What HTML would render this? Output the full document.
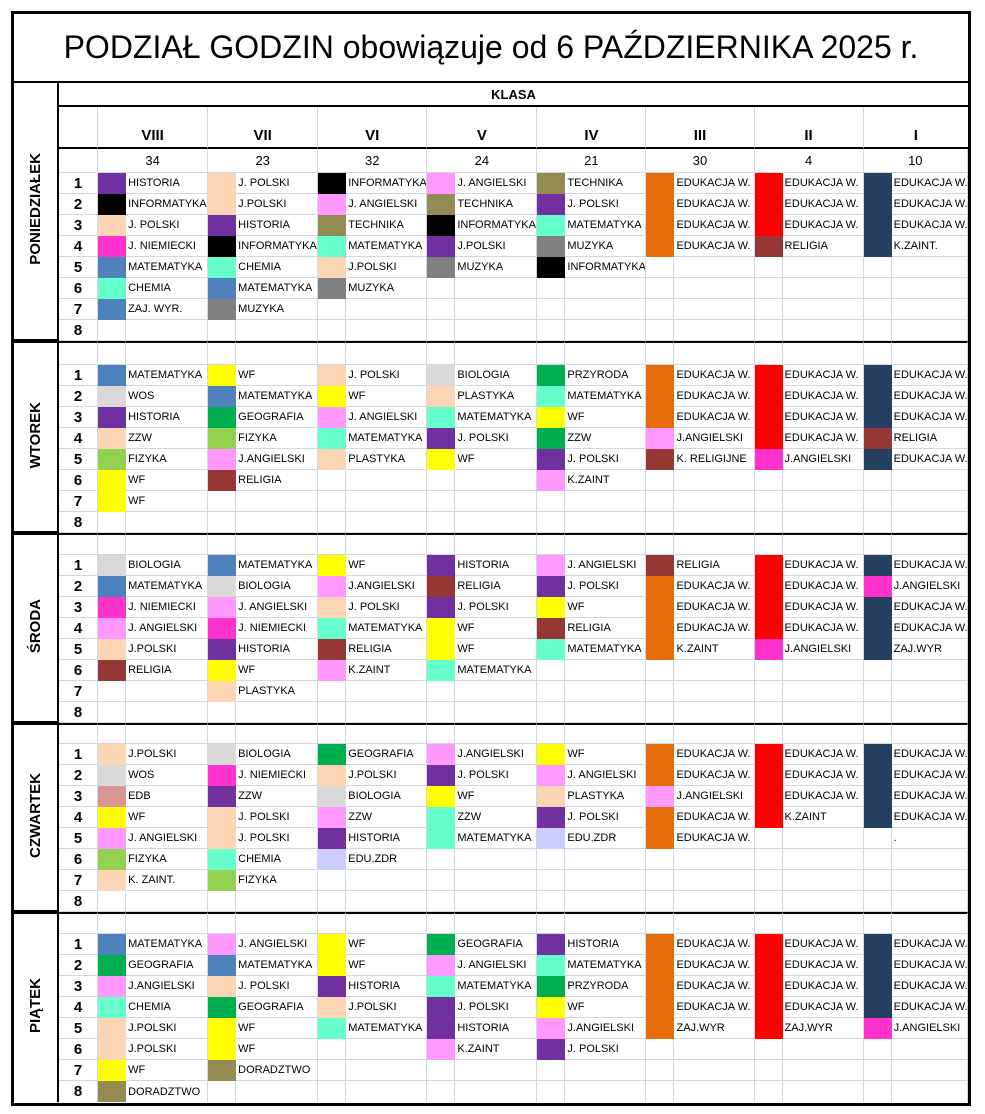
<!DOCTYPE html>
<html><head><meta charset="utf-8"><style>
body{margin:0;background:#fff;width:985px;height:1114px;position:relative;font-family:"Liberation Sans",Arial,sans-serif;}
#w{position:absolute;left:11px;top:11px;width:960px;height:1095px;border:3px solid #000;box-sizing:border-box;overflow:hidden}
table{border-collapse:separate;border-spacing:0;table-layout:fixed;width:954px}
td{box-sizing:border-box;padding:0;border-right:1px solid #cfd6e4;border-bottom:1px solid #cfd6e4;font-size:11px;white-space:nowrap;overflow:hidden;height:21px;vertical-align:middle}
td.t{padding-left:2px}
td.n{font-weight:bold;font-size:15px;text-align:center;border-right:1px solid #cfd6e4}
td.day{border-right:2px solid #000;border-bottom:2px solid #000;text-align:center;font-weight:bold;font-size:15px}
td.day div{writing-mode:vertical-rl;transform:rotate(180deg);display:inline-block}
tr.s td{border-top:2px solid #000}
tr.last td{border-bottom:none}
.title{height:69px;text-align:center;font-size:32px;border-bottom:2px solid #000;border-right:none}
.pu{background:#7030a0;border-color:#7030a0!important}
.bk{background:#000;border-color:#000!important}
.pe{background:#fcd5b4;border-color:#fcd5b4!important}
.mg{background:#ff33cc;border-color:#ff33cc!important}
.bl{background:#4f81bd;border-color:#4f81bd!important}
.mi{background:#66ffcc;border-color:#66ffcc!important}
.gy{background:#808080;border-color:#808080!important}
.ol{background:#948a54;border-color:#948a54!important}
.pk{background:#ff99ff;border-color:#ff99ff!important}
.or{background:#e46c0a;border-color:#e46c0a!important}
.rd{background:#ff0000;border-color:#ff0000!important}
.nv{background:#243f60;border-color:#243f60!important}
.br{background:#953735;border-color:#953735!important}
.ye{background:#ffff00;border-color:#ffff00!important}
.lgr{background:#92d050;border-color:#92d050!important}
.gr{background:#00b050;border-color:#00b050!important}
.lg{background:#d9d9d9;border-color:#d9d9d9!important}
.lav{background:#ccccff;border-color:#ccccff!important}
.dp{background:#da9694;border-color:#da9694!important}
tr.s td.day{border-top:2px solid #000}
</style></head><body><div id="w"><table>
<colgroup><col style="width:45px"><col style="width:39px"><col style="width:28px"><col style="width:82px"><col style="width:28px"><col style="width:82px"><col style="width:28px"><col style="width:81px"><col style="width:28px"><col style="width:82px"><col style="width:28px"><col style="width:81px"><col style="width:28px"><col style="width:80px"><col style="width:28px"><col style="width:81px"><col style="width:28px"><col style="width:76px"></colgroup>
<tr><td class="title" colspan="18">PODZIAŁ GODZIN obowiązuje od 6 PAŹDZIERNIKA 2025 r.</td></tr>
<tr><td class="day" rowspan="11"><div>PONIEDZIAŁEK</div></td><td colspan="17" style="height:24px;text-align:center;font-weight:bold;font-size:13px;border-bottom:2px solid #000;border-right:none">KLASA</td></tr>
<tr style="font-weight:bold"><td style="height:42px;border-bottom:2px solid #000"></td><td colspan="2" style="text-align:center;vertical-align:bottom;padding-bottom:3px;font-size:15px;font-weight:bold;border-bottom:2px solid #000">VIII</td><td colspan="2" style="text-align:center;vertical-align:bottom;padding-bottom:3px;font-size:15px;font-weight:bold;border-bottom:2px solid #000">VII</td><td colspan="2" style="text-align:center;vertical-align:bottom;padding-bottom:3px;font-size:15px;font-weight:bold;border-bottom:2px solid #000">VI</td><td colspan="2" style="text-align:center;vertical-align:bottom;padding-bottom:3px;font-size:15px;font-weight:bold;border-bottom:2px solid #000">V</td><td colspan="2" style="text-align:center;vertical-align:bottom;padding-bottom:3px;font-size:15px;font-weight:bold;border-bottom:2px solid #000">IV</td><td colspan="2" style="text-align:center;vertical-align:bottom;padding-bottom:3px;font-size:15px;font-weight:bold;border-bottom:2px solid #000">III</td><td colspan="2" style="text-align:center;vertical-align:bottom;padding-bottom:3px;font-size:15px;font-weight:bold;border-bottom:2px solid #000">II</td><td colspan="2" style="text-align:center;vertical-align:bottom;padding-bottom:3px;font-size:15px;font-weight:bold;border-bottom:2px solid #000;border-right:none">I</td></tr>
<tr><td style="height:24px"></td><td colspan="2" style="text-align:center;font-size:13px">34</td><td colspan="2" style="text-align:center;font-size:13px">23</td><td colspan="2" style="text-align:center;font-size:13px">32</td><td colspan="2" style="text-align:center;font-size:13px">24</td><td colspan="2" style="text-align:center;font-size:13px">21</td><td colspan="2" style="text-align:center;font-size:13px">30</td><td colspan="2" style="text-align:center;font-size:13px">4</td><td colspan="2" style="text-align:center;font-size:13px">10</td></tr>
<tr><td class="n">1</td><td class="pu"></td><td class="t">HISTORIA</td><td class="pe"></td><td class="t">J. POLSKI</td><td class="bk"></td><td class="t">INFORMATYKA</td><td class="pk"></td><td class="t">J. ANGIELSKI</td><td class="ol"></td><td class="t">TECHNIKA</td><td class="or"></td><td class="t">EDUKACJA W.</td><td class="rd"></td><td class="t">EDUKACJA W.</td><td class="nv"></td><td class="t">EDUKACJA W.</td></tr>
<tr><td class="n">2</td><td class="bk"></td><td class="t">INFORMATYKA</td><td class="pe"></td><td class="t">J.POLSKI</td><td class="pk"></td><td class="t">J. ANGIELSKI</td><td class="ol"></td><td class="t">TECHNIKA</td><td class="pu"></td><td class="t">J. POLSKI</td><td class="or"></td><td class="t">EDUKACJA W.</td><td class="rd"></td><td class="t">EDUKACJA W.</td><td class="nv"></td><td class="t">EDUKACJA W.</td></tr>
<tr><td class="n">3</td><td class="pe"></td><td class="t">J. POLSKI</td><td class="pu"></td><td class="t">HISTORIA</td><td class="ol"></td><td class="t">TECHNIKA</td><td class="bk"></td><td class="t">INFORMATYKA</td><td class="mi"></td><td class="t">MATEMATYKA</td><td class="or"></td><td class="t">EDUKACJA W.</td><td class="rd"></td><td class="t">EDUKACJA W.</td><td class="nv"></td><td class="t">EDUKACJA W.</td></tr>
<tr><td class="n">4</td><td class="mg"></td><td class="t">J. NIEMIECKI</td><td class="bk"></td><td class="t">INFORMATYKA</td><td class="mi"></td><td class="t">MATEMATYKA</td><td class="pu"></td><td class="t">J.POLSKI</td><td class="gy"></td><td class="t">MUZYKA</td><td class="or"></td><td class="t">EDUKACJA W.</td><td class="br"></td><td class="t">RELIGIA</td><td class="nv"></td><td class="t">K.ZAINT.</td></tr>
<tr><td class="n">5</td><td class="bl"></td><td class="t">MATEMATYKA</td><td class="mi"></td><td class="t">CHEMIA</td><td class="pe"></td><td class="t">J.POLSKI</td><td class="gy"></td><td class="t">MUZYKA</td><td class="bk"></td><td class="t">INFORMATYKA</td><td></td><td></td><td></td><td></td><td></td><td></td></tr>
<tr><td class="n">6</td><td class="mi"></td><td class="t">CHEMIA</td><td class="bl"></td><td class="t">MATEMATYKA</td><td class="gy"></td><td class="t">MUZYKA</td><td></td><td></td><td></td><td></td><td></td><td></td><td></td><td></td><td></td><td></td></tr>
<tr><td class="n">7</td><td class="bl"></td><td class="t">ZAJ. WYR.</td><td class="gy"></td><td class="t">MUZYKA</td><td></td><td></td><td></td><td></td><td></td><td></td><td></td><td></td><td></td><td></td><td></td><td></td></tr>
<tr><td class="n">8</td><td></td><td></td><td></td><td></td><td></td><td></td><td></td><td></td><td></td><td></td><td></td><td></td><td></td><td></td><td></td><td></td></tr>

<tr class="s"><td class="day" rowspan="9"><div>WTOREK</div></td><td style="height:24px"></td><td></td><td></td><td></td><td></td><td></td><td></td><td></td><td></td><td></td><td></td><td></td><td></td><td></td><td></td><td></td><td></td></tr>
<tr><td class="n">1</td><td class="bl"></td><td class="t">MATEMATYKA</td><td class="ye"></td><td class="t">WF</td><td class="pe"></td><td class="t">J. POLSKI</td><td class="lg"></td><td class="t">BIOLOGIA</td><td class="gr"></td><td class="t">PRZYRODA</td><td class="or"></td><td class="t">EDUKACJA W.</td><td class="rd"></td><td class="t">EDUKACJA W.</td><td class="nv"></td><td class="t">EDUKACJA W.</td></tr>
<tr><td class="n">2</td><td class="lg"></td><td class="t">WOS</td><td class="bl"></td><td class="t">MATEMATYKA</td><td class="ye"></td><td class="t">WF</td><td class="pe"></td><td class="t">PLASTYKA</td><td class="mi"></td><td class="t">MATEMATYKA</td><td class="or"></td><td class="t">EDUKACJA W.</td><td class="rd"></td><td class="t">EDUKACJA W.</td><td class="nv"></td><td class="t">EDUKACJA W.</td></tr>
<tr><td class="n">3</td><td class="pu"></td><td class="t">HISTORIA</td><td class="gr"></td><td class="t">GEOGRAFIA</td><td class="pk"></td><td class="t">J. ANGIELSKI</td><td class="mi"></td><td class="t">MATEMATYKA</td><td class="ye"></td><td class="t">WF</td><td class="or"></td><td class="t">EDUKACJA W.</td><td class="rd"></td><td class="t">EDUKACJA W.</td><td class="nv"></td><td class="t">EDUKACJA W.</td></tr>
<tr><td class="n">4</td><td class="pe"></td><td class="t">ZZW</td><td class="lgr"></td><td class="t">FIZYKA</td><td class="mi"></td><td class="t">MATEMATYKA</td><td class="pu"></td><td class="t">J. POLSKI</td><td class="gr"></td><td class="t">ZZW</td><td class="pk"></td><td class="t">J.ANGIELSKI</td><td class="rd"></td><td class="t">EDUKACJA W.</td><td class="br"></td><td class="t">RELIGIA</td></tr>
<tr><td class="n">5</td><td class="lgr"></td><td class="t">FIZYKA</td><td class="pk"></td><td class="t">J.ANGIELSKI</td><td class="pe"></td><td class="t">PLASTYKA</td><td class="ye"></td><td class="t">WF</td><td class="pu"></td><td class="t">J. POLSKI</td><td class="br"></td><td class="t">K. RELIGIJNE</td><td class="mg"></td><td class="t">J.ANGIELSKI</td><td class="nv"></td><td class="t">EDUKACJA W.</td></tr>
<tr><td class="n">6</td><td class="ye"></td><td class="t">WF</td><td class="br"></td><td class="t">RELIGIA</td><td></td><td></td><td></td><td></td><td class="pk"></td><td class="t">K.ZAINT</td><td></td><td></td><td></td><td></td><td></td><td></td></tr>
<tr><td class="n">7</td><td class="ye"></td><td class="t">WF</td><td></td><td></td><td></td><td></td><td></td><td></td><td></td><td></td><td></td><td></td><td></td><td></td><td></td><td></td></tr>
<tr><td class="n">8</td><td></td><td></td><td></td><td></td><td></td><td></td><td></td><td></td><td></td><td></td><td></td><td></td><td></td><td></td><td></td><td></td></tr>

<tr class="s"><td class="day" rowspan="9"><div>ŚRODA</div></td><td style="height:22px"></td><td></td><td></td><td></td><td></td><td></td><td></td><td></td><td></td><td></td><td></td><td></td><td></td><td></td><td></td><td></td><td></td></tr>
<tr><td class="n">1</td><td class="lg"></td><td class="t">BIOLOGIA</td><td class="bl"></td><td class="t">MATEMATYKA</td><td class="ye"></td><td class="t">WF</td><td class="pu"></td><td class="t">HISTORIA</td><td class="pk"></td><td class="t">J. ANGIELSKI</td><td class="br"></td><td class="t">RELIGIA</td><td class="rd"></td><td class="t">EDUKACJA W.</td><td class="nv"></td><td class="t">EDUKACJA W.</td></tr>
<tr><td class="n">2</td><td class="bl"></td><td class="t">MATEMATYKA</td><td class="lg"></td><td class="t">BIOLOGIA</td><td class="pk"></td><td class="t">J.ANGIELSKI</td><td class="br"></td><td class="t">RELIGIA</td><td class="pu"></td><td class="t">J. POLSKI</td><td class="or"></td><td class="t">EDUKACJA W.</td><td class="rd"></td><td class="t">EDUKACJA W.</td><td class="mg"></td><td class="t">J.ANGIELSKI</td></tr>
<tr><td class="n">3</td><td class="mg"></td><td class="t">J. NIEMIECKI</td><td class="pk"></td><td class="t">J. ANGIELSKI</td><td class="pe"></td><td class="t">J. POLSKI</td><td class="pu"></td><td class="t">J. POLSKI</td><td class="ye"></td><td class="t">WF</td><td class="or"></td><td class="t">EDUKACJA W.</td><td class="rd"></td><td class="t">EDUKACJA W.</td><td class="nv"></td><td class="t">EDUKACJA W.</td></tr>
<tr><td class="n">4</td><td class="pk"></td><td class="t">J. ANGIELSKI</td><td class="mg"></td><td class="t">J. NIEMIECKI</td><td class="mi"></td><td class="t">MATEMATYKA</td><td class="ye"></td><td class="t">WF</td><td class="br"></td><td class="t">RELIGIA</td><td class="or"></td><td class="t">EDUKACJA W.</td><td class="rd"></td><td class="t">EDUKACJA W.</td><td class="nv"></td><td class="t">EDUKACJA W.</td></tr>
<tr><td class="n">5</td><td class="pe"></td><td class="t">J.POLSKI</td><td class="pu"></td><td class="t">HISTORIA</td><td class="br"></td><td class="t">RELIGIA</td><td class="ye"></td><td class="t">WF</td><td class="mi"></td><td class="t">MATEMATYKA</td><td class="or"></td><td class="t">K.ZAINT</td><td class="mg"></td><td class="t">J.ANGIELSKI</td><td class="nv"></td><td class="t">ZAJ.WYR</td></tr>
<tr><td class="n">6</td><td class="br"></td><td class="t">RELIGIA</td><td class="ye"></td><td class="t">WF</td><td class="pk"></td><td class="t">K.ZAINT</td><td class="mi"></td><td class="t">MATEMATYKA</td><td></td><td></td><td></td><td></td><td></td><td></td><td></td><td></td></tr>
<tr><td class="n">7</td><td></td><td></td><td class="pe"></td><td class="t">PLASTYKA</td><td></td><td></td><td></td><td></td><td></td><td></td><td></td><td></td><td></td><td></td><td></td><td></td></tr>
<tr><td class="n">8</td><td></td><td></td><td></td><td></td><td></td><td></td><td></td><td></td><td></td><td></td><td></td><td></td><td></td><td></td><td></td><td></td></tr>

<tr class="s"><td class="day" rowspan="9"><div>CZWARTEK</div></td><td style="height:21px"></td><td></td><td></td><td></td><td></td><td></td><td></td><td></td><td></td><td></td><td></td><td></td><td></td><td></td><td></td><td></td><td></td></tr>
<tr><td class="n">1</td><td class="pe"></td><td class="t">J.POLSKI</td><td class="lg"></td><td class="t">BIOLOGIA</td><td class="gr"></td><td class="t">GEOGRAFIA</td><td class="pk"></td><td class="t">J.ANGIELSKI</td><td class="ye"></td><td class="t">WF</td><td class="or"></td><td class="t">EDUKACJA W.</td><td class="rd"></td><td class="t">EDUKACJA W.</td><td class="nv"></td><td class="t">EDUKACJA W.</td></tr>
<tr><td class="n">2</td><td class="lg"></td><td class="t">WOS</td><td class="mg"></td><td class="t">J. NIEMIECKI</td><td class="pe"></td><td class="t">J.POLSKI</td><td class="pu"></td><td class="t">J. POLSKI</td><td class="pk"></td><td class="t">J. ANGIELSKI</td><td class="or"></td><td class="t">EDUKACJA W.</td><td class="rd"></td><td class="t">EDUKACJA W.</td><td class="nv"></td><td class="t">EDUKACJA W.</td></tr>
<tr><td class="n">3</td><td class="dp"></td><td class="t">EDB</td><td class="pu"></td><td class="t">ZZW</td><td class="lg"></td><td class="t">BIOLOGIA</td><td class="ye"></td><td class="t">WF</td><td class="pe"></td><td class="t">PLASTYKA</td><td class="pk"></td><td class="t">J.ANGIELSKI</td><td class="rd"></td><td class="t">EDUKACJA W.</td><td class="nv"></td><td class="t">EDUKACJA W.</td></tr>
<tr><td class="n">4</td><td class="ye"></td><td class="t">WF</td><td class="pe"></td><td class="t">J. POLSKI</td><td class="pk"></td><td class="t">ZZW</td><td class="mi"></td><td class="t">ZZW</td><td class="pu"></td><td class="t">J. POLSKI</td><td class="or"></td><td class="t">EDUKACJA W.</td><td class="rd"></td><td class="t">K.ZAINT</td><td class="nv"></td><td class="t">EDUKACJA W.</td></tr>
<tr><td class="n">5</td><td class="pk"></td><td class="t">J. ANGIELSKI</td><td class="pe"></td><td class="t">J. POLSKI</td><td class="pu"></td><td class="t">HISTORIA</td><td class="mi"></td><td class="t">MATEMATYKA</td><td class="lav"></td><td class="t">EDU.ZDR</td><td class="or"></td><td class="t">EDUKACJA W.</td><td></td><td></td><td></td><td class="t">.</td></tr>
<tr><td class="n">6</td><td class="lgr"></td><td class="t">FIZYKA</td><td class="mi"></td><td class="t">CHEMIA</td><td class="lav"></td><td class="t">EDU.ZDR</td><td></td><td></td><td></td><td></td><td></td><td></td><td></td><td></td><td></td><td></td></tr>
<tr><td class="n">7</td><td class="pe"></td><td class="t">K. ZAINT.</td><td class="lgr"></td><td class="t">FIZYKA</td><td></td><td></td><td></td><td></td><td></td><td></td><td></td><td></td><td></td><td></td><td></td><td></td></tr>
<tr><td class="n">8</td><td></td><td></td><td></td><td></td><td></td><td></td><td></td><td></td><td></td><td></td><td></td><td></td><td></td><td></td><td></td><td></td></tr>

<tr class="s"><td class="day" rowspan="9" style="border-bottom:none"><div>PIĄTEK</div></td><td style="height:22px"></td><td></td><td></td><td></td><td></td><td></td><td></td><td></td><td></td><td></td><td></td><td></td><td></td><td></td><td></td><td></td><td></td></tr>
<tr><td class="n">1</td><td class="bl"></td><td class="t">MATEMATYKA</td><td class="pk"></td><td class="t">J. ANGIELSKI</td><td class="ye"></td><td class="t">WF</td><td class="gr"></td><td class="t">GEOGRAFIA</td><td class="pu"></td><td class="t">HISTORIA</td><td class="or"></td><td class="t">EDUKACJA W.</td><td class="rd"></td><td class="t">EDUKACJA W.</td><td class="nv"></td><td class="t">EDUKACJA W.</td></tr>
<tr><td class="n">2</td><td class="gr"></td><td class="t">GEOGRAFIA</td><td class="bl"></td><td class="t">MATEMATYKA</td><td class="ye"></td><td class="t">WF</td><td class="pk"></td><td class="t">J. ANGIELSKI</td><td class="mi"></td><td class="t">MATEMATYKA</td><td class="or"></td><td class="t">EDUKACJA W.</td><td class="rd"></td><td class="t">EDUKACJA W.</td><td class="nv"></td><td class="t">EDUKACJA W.</td></tr>
<tr><td class="n">3</td><td class="pk"></td><td class="t">J.ANGIELSKI</td><td class="pe"></td><td class="t">J. POLSKI</td><td class="pu"></td><td class="t">HISTORIA</td><td class="mi"></td><td class="t">MATEMATYKA</td><td class="gr"></td><td class="t">PRZYRODA</td><td class="or"></td><td class="t">EDUKACJA W.</td><td class="rd"></td><td class="t">EDUKACJA W.</td><td class="nv"></td><td class="t">EDUKACJA W.</td></tr>
<tr><td class="n">4</td><td class="mi"></td><td class="t">CHEMIA</td><td class="gr"></td><td class="t">GEOGRAFIA</td><td class="pe"></td><td class="t">J.POLSKI</td><td class="pu"></td><td class="t">J. POLSKI</td><td class="ye"></td><td class="t">WF</td><td class="or"></td><td class="t">EDUKACJA W.</td><td class="rd"></td><td class="t">EDUKACJA W.</td><td class="nv"></td><td class="t">EDUKACJA W.</td></tr>
<tr><td class="n">5</td><td class="pe"></td><td class="t">J.POLSKI</td><td class="ye"></td><td class="t">WF</td><td class="mi"></td><td class="t">MATEMATYKA</td><td class="pu"></td><td class="t">HISTORIA</td><td class="pk"></td><td class="t">J.ANGIELSKI</td><td class="or"></td><td class="t">ZAJ.WYR</td><td class="rd"></td><td class="t">ZAJ.WYR</td><td class="mg"></td><td class="t">J.ANGIELSKI</td></tr>
<tr><td class="n">6</td><td class="pe"></td><td class="t">J.POLSKI</td><td class="ye"></td><td class="t">WF</td><td></td><td></td><td class="pk"></td><td class="t">K.ZAINT</td><td class="pu"></td><td class="t">J. POLSKI</td><td></td><td></td><td></td><td></td><td></td><td></td></tr>
<tr><td class="n">7</td><td class="ye"></td><td class="t">WF</td><td class="ol"></td><td class="t">DORADZTWO</td><td></td><td></td><td></td><td></td><td></td><td></td><td></td><td></td><td></td><td></td><td></td><td></td></tr>
<tr class="last"><td class="n">8</td><td class="ol"></td><td class="t">DORADZTWO</td><td></td><td></td><td></td><td></td><td></td><td></td><td></td><td></td><td></td><td></td><td></td><td></td><td></td><td></td></tr>
</table></div></body></html>
